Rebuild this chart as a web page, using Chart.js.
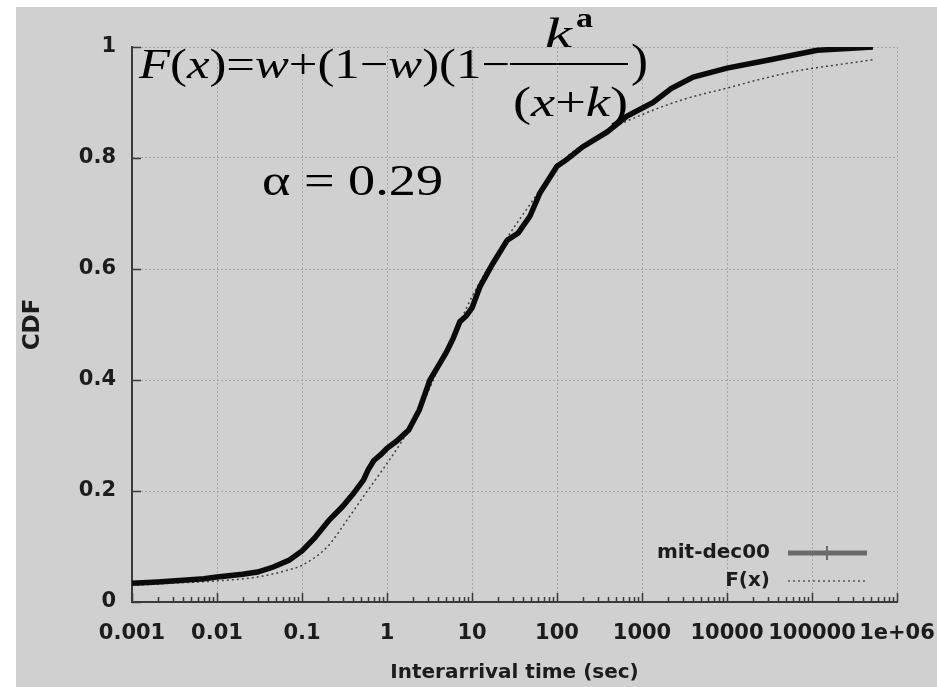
<!DOCTYPE html>
<html>
<head>
<meta charset="utf-8">
<script src="https://cdn.jsdelivr.net/npm/chart.js@4/dist/chart.umd.min.js"></script>
<style>
    html, body { margin: 0; padding: 0; background: #fff; }
    #wrap { position: relative; width: 937px; height: 687px; }
</style>
</head>
<body>
<div id="wrap"><canvas id="cdfChart" width="937" height="687"></canvas></div>
<script>
(function () {
    'use strict';

    // axis ticks
    var xTickValues = [0.001, 0.01, 0.1, 1, 10, 100, 1000, 10000, 100000, 1000000];
    var xTickLabels = ['0.001', '0.01', '0.1', '1', '10', '100', '1000', '10000', '100000', '1e+06'];
    var yTickLabels = ['0', '0.2', '0.4', '0.6', '0.8', '1'];

    var traceX = [0.001, 0.002, 0.004, 0.007, 0.01, 0.02, 0.03, 0.046, 0.07, 0.1,
        0.14, 0.21, 0.3, 0.4, 0.53, 0.6, 0.7, 0.85, 1, 1.3, 1.8,
        2.4, 2.8, 3.2, 4, 5, 6, 7.2, 8.5, 10, 12.4,
        17.6, 26, 35, 48, 63, 100, 130, 200, 390, 660,
        1350, 2200, 4000, 10000, 30000, 115000, 520000];
    var traceY = [0.034, 0.036, 0.039, 0.042, 0.045, 0.05, 0.054, 0.063, 0.075, 0.092,
        0.115, 0.148, 0.172, 0.195, 0.22, 0.238, 0.255, 0.266, 0.277, 0.29, 0.31,
        0.346, 0.375, 0.40, 0.425, 0.45, 0.475, 0.505, 0.515, 0.53, 0.568,
        0.61, 0.652, 0.665, 0.695, 0.737, 0.785, 0.797, 0.82, 0.847, 0.875,
        0.9, 0.925, 0.946, 0.962, 0.976, 0.994, 1.0];

    // fitted curve F(x)
    var fitX = [0.001, 0.003, 0.01, 0.03, 0.07, 0.1, 0.2, 0.34, 0.5, 0.83,
        1.5, 2.4, 4, 7, 10, 20, 50, 100, 300, 1000,
        3000, 10000, 30000, 72000, 200000, 520000];
    var fitY = [0.03, 0.034, 0.038, 0.045, 0.058, 0.066, 0.1, 0.148, 0.185, 0.232,
        0.29, 0.345, 0.42, 0.5, 0.55, 0.63, 0.72, 0.785, 0.84, 0.878,
        0.905, 0.926, 0.945, 0.958, 0.968, 0.977];

    var seriesNames = ['mit-dec00', 'F(x)'];

    function toPoints(xs, ys) {
        return xs.map(function (x, i) { return { x: x, y: ys[i] }; });
    }

    var inkColor = '#1c1c1c';
    var axisColor = '#3a3a3a';
    var gridColor = '#a4a4a4';
    var tickFont = { family: '"DejaVu Sans", sans-serif', size: 21, weight: 'bold' };
    var titleFont = { family: '"DejaVu Sans", sans-serif', size: 20, weight: 'bold' };
    var serif = '"Liberation Serif", "Times New Roman", serif';

    var backdrop = {
        id: 'backdrop',
        beforeDraw: function (chart) {
            var ctx = chart.ctx;
            ctx.save();
            ctx.fillStyle = '#ffffff';
            ctx.fillRect(0, 0, chart.width, chart.height);
            ctx.fillStyle = '#d0d0d0';
            ctx.fillRect(16, 7, chart.width - 16, chart.height - 7);
            ctx.restore();
        }
    };

    // gnuplot style inward ticks, with log minor ticks on x
    var innerTicks = {
        id: 'innerTicks',
        afterDatasetsDraw: function (chart) {
            var ctx = chart.ctx, xs = chart.scales.x, ys = chart.scales.y;
            var a = chart.chartArea;
            ctx.save();
            ctx.strokeStyle = axisColor;
            ctx.lineWidth = 1.5;
            ctx.beginPath();
            xTickValues.forEach(function (v, i) {
                var px = Math.round(xs.getPixelForValue(v)) + 0.5;
                ctx.moveTo(px, a.bottom);
                ctx.lineTo(px, a.bottom - 9);
                if (i === xTickValues.length - 1) return;
                for (var m = 2; m < 10; m++) {
                    var mx = Math.round(xs.getPixelForValue(v * m)) + 0.5;
                    ctx.moveTo(mx, a.bottom);
                    ctx.lineTo(mx, a.bottom - 5);
                }
            });
            ys.ticks.forEach(function (t) {
                var py = Math.round(ys.getPixelForValue(t.value)) + 0.5;
                ctx.moveTo(a.left, py);
                ctx.lineTo(a.left + 9, py);
            });
            ctx.stroke();
            ctx.restore();
        }
    };

    function fontFor(style, size) {
        if (style === 'i') return 'italic ' + size + 'px ' + serif;
        if (style === 'b') return 'bold ' + size + 'px ' + serif;
        return size + 'px ' + serif;
    }

    // draws a run of mixed-style text, stretched to a target width
    function drawRun(ctx, parts, x, baseline, size, targetW) {
        var w = 0;
        parts.forEach(function (p) { ctx.font = fontFor(p[1], size); w += ctx.measureText(p[0]).width; });
        ctx.save();
        ctx.translate(x, baseline);
        ctx.scale(targetW / w, 1);
        var cx = 0;
        parts.forEach(function (p) {
            ctx.font = fontFor(p[1], size);
            ctx.fillText(p[0], cx, 0);
            cx += ctx.measureText(p[0]).width;
        });
        ctx.restore();
    }

    var overlay = {
        id: 'overlay',
        afterDraw: function (chart) {
            var ctx = chart.ctx;
            ctx.save();
            ctx.fillStyle = '#000';
            ctx.textAlign = 'left';
            ctx.textBaseline = 'alphabetic';

            drawRun(ctx, [['F', 'i'], ['(', 'n'], ['x', 'i'], [')', 'n'], ['=', 'n'], ['w', 'i'], ['+', 'n'],
                ['(1', 'n'], ['\u2212', 'n'], ['w', 'i'], [')(1', 'n'], ['\u2212', 'n']], 139, 78, 42, 371);
            drawRun(ctx, [['k', 'i']], 545, 47, 42, 27);
            drawRun(ctx, [['a', 'b']], 576, 27, 27, 17);
            ctx.fillRect(510, 63, 118, 2);
            drawRun(ctx, [['(', 'n'], ['x', 'i'], ['+', 'n'], ['k', 'i'], [')', 'n']], 513, 116, 42, 115);
            drawRun(ctx, [[')', 'n']], 631, 76, 47, 17);

            drawRun(ctx, [['\u03b1', 'n'], [' = ', 'n'], ['0.29', 'n']], 262, 195, 44, 181);

            // legend, gnuplot style (bottom right inside the plot)
            var sets = chart.data.datasets;
            ctx.font = 'bold 20px "DejaVu Sans", sans-serif';
            ctx.textAlign = 'right';
            ctx.textBaseline = 'middle';
            ctx.fillStyle = inkColor;
            sets.forEach(function (ds, i) {
                var y = 553 + i * 28;
                ctx.fillText(ds.label, 770, y);
                ctx.save();
                ctx.strokeStyle = i === 0 ? '#6a6a6a' : '#555';
                ctx.lineWidth = i === 0 ? 5 : 1.5;
                ctx.setLineDash(i === 0 ? [] : [2, 3]);
                ctx.beginPath();
                ctx.moveTo(788, y);
                ctx.lineTo(867, y);
                ctx.stroke();
                if (i === 0) {
                    ctx.lineWidth = 2;
                    ctx.beginPath();
                    ctx.moveTo(827, y - 7);
                    ctx.lineTo(827, y + 7);
                    ctx.stroke();
                }
                ctx.restore();
            });
            ctx.restore();
        }
    };

    var canvas = document.getElementById('cdfChart');
    var ctx = canvas.getContext('2d');

    new Chart(ctx, {
        type: 'line',
        data: {
            datasets: [{
                label: seriesNames[0],
                data: toPoints(traceX, traceY),
                borderColor: '#0a0a0a',
                borderWidth: 5.5,
                pointRadius: 0,
                tension: 0
            }, {
                label: seriesNames[1],
                data: toPoints(fitX, fitY),
                borderColor: '#404040',
                borderWidth: 1.5,
                borderDash: [2, 3],
                pointRadius: 0,
                cubicInterpolationMode: 'monotone'
            }]
        },
        options: {
            responsive: false,
            animation: false,
            layout: { padding: { top: 47, right: 40, left: 0, bottom: 0 } },
            plugins: {
                legend: { display: false },
                tooltip: { enabled: false }
            },
            scales: {
                x: {
                    type: 'logarithmic',
                    min: 0.001,
                    max: 1000000,
                    afterBuildTicks: function (scale) {
                        scale.ticks = xTickValues.map(function (v) { return { value: v }; });
                    },
                    afterFit: function (scale) {
                        scale.height = 85;
                        scale.paddingLeft = 0;
                        scale.paddingRight = 0;
                    },
                    grid: { color: gridColor, lineWidth: 1, drawTicks: false },
                    border: { display: true, color: axisColor, width: 2, dash: [2, 2] },
                    ticks: {
                        autoSkip: false,
                        maxRotation: 0,
                        padding: 19,
                        color: inkColor,
                        font: tickFont,
                        callback: function (value, index) { return xTickLabels[index]; }
                    },
                    title: {
                        display: true,
                        text: 'Interarrival time (sec)',
                        color: inkColor,
                        font: titleFont,
                        padding: { top: 0, bottom: 2 }
                    }
                },
                y: {
                    min: 0,
                    max: 1,
                    afterFit: function (scale) { scale.width = 132; },
                    grid: { color: gridColor, lineWidth: 1, drawTicks: false },
                    border: { display: true, color: axisColor, width: 2, dash: [2, 2] },
                    ticks: {
                        stepSize: 0.2,
                        padding: 16,
                        color: inkColor,
                        font: tickFont,
                        callback: function (value, index) { return yTickLabels[index]; }
                    },
                    title: {
                        display: true,
                        text: 'CDF',
                        color: inkColor,
                        font: { family: '"DejaVu Sans", sans-serif', size: 23, weight: 'bold' },
                        padding: { top: 19, bottom: 0 }
                    }
                }
            }
        },
        plugins: [backdrop, innerTicks, overlay]
    });
})();
</script>
</body>
</html>
